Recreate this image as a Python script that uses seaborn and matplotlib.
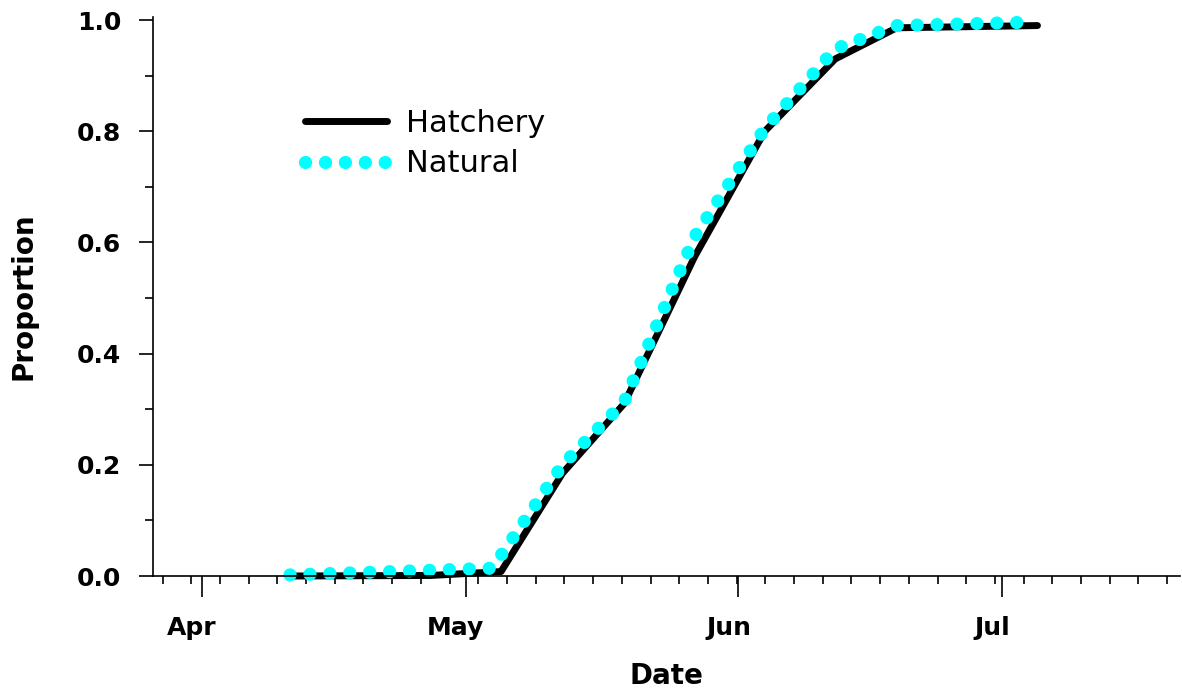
import numpy as np
import pandas as pd
import seaborn as sns
import matplotlib
matplotlib.use("Agg")
import matplotlib.pyplot as plt
import matplotlib.dates as mdates
import matplotlib.ticker as mticker
import matplotlib.transforms as mtransforms

# values
year = 2007
hatchery_dates = ["04-11", "04-27", "05-05", "05-12", "05-19", "05-27", "06-04", "06-12", "06-19", "07-05"]
hatchery_prop = [0.0, 0.001, 0.008, 0.185, 0.31, 0.574, 0.80, 0.93, 0.986, 0.99]
natural_dates = ["04-11", "05-04", "05-12", "05-19", "05-27", "06-04", "06-12", "06-19", "07-04"]
natural_prop = [0.002, 0.014, 0.20, 0.313, 0.61, 0.805, 0.948, 0.99, 0.996]
month_ticks = ["04-01", "05-01", "06-01", "07-01"]
month_labels = ["Apr", "May", "Jun", "Jul"]
y_ticks = [0.0, 0.2, 0.4, 0.6, 0.8, 1.0]
y_labels = ["0.0", "0.2", "0.4", "0.6", "0.8", "1.0"]

def to_dates(days):
    return pd.to_datetime([f"{year}-{d}" for d in days])

df_h = pd.DataFrame({"Date": to_dates(hatchery_dates), "Proportion": hatchery_prop})
df_n = pd.DataFrame({"Date": to_dates(natural_dates), "Proportion": natural_prop})

sns.set_style("ticks")
plt.rcParams["font.family"] = ["DejaVu Sans"]
for k in ["text.color", "axes.labelcolor", "xtick.color", "ytick.color", "axes.edgecolor"]:
    plt.rcParams[k] = "black"

fig = plt.figure(figsize=(11.82, 6.92), dpi=100)
ax = fig.add_axes([0.1294, 0.1676, 0.8689, 0.8075])

sns.lineplot(data=df_h, x="Date", y="Proportion", ax=ax, color="black", lw=5,
             solid_capstyle="round", label="Hatchery", clip_on=False)
sns.lineplot(data=df_n, x="Date", y="Proportion", ax=ax, color="#00FFFF", lw=9.5,
             linestyle=(0, (0.01, 1.5)), dash_capstyle="round", label="Natural", clip_on=False)

apr1 = mdates.date2num(pd.Timestamp(f"{year}-04-01"))
ax.set_xlim(mdates.date2num(pd.Timestamp(f"{year}-03-26 10:00")),
            mdates.date2num(pd.Timestamp(f"{year}-07-21 05:00")))
ax.set_xticks(mdates.date2num(to_dates(month_ticks)), month_labels,
              fontsize=18, fontweight="bold")
ax.xaxis.set_minor_locator(mticker.FixedLocator(apr1 + np.arange(-4.49, 111, 3.264)))
ax.set_ylim(0, 1.005)
ax.set_yticks(y_ticks, y_labels, fontsize=18, fontweight="bold")
ax.yaxis.set_minor_locator(mticker.MultipleLocator(0.1))

ax.tick_params(axis="x", which="major", direction="out", length=15, width=1.2, pad=13.5)
ax.tick_params(axis="x", which="minor", direction="out", length=6, width=1.2)
ax.tick_params(axis="y", which="major", direction="out", length=10, width=1.2, pad=13)
ax.tick_params(axis="y", which="minor", direction="out", length=6, width=1.2)

# month labels sit a little left of their ticks in the original
shift = mtransforms.ScaledTranslation(-10 / 100, 0, fig.dpi_scale_trans)
for lab in ax.get_xticklabels():
    lab.set_transform(lab.get_transform() + shift)

sns.despine(ax=ax)
for s in ["left", "bottom"]:
    ax.spines[s].set_linewidth(1.2)

ax.set_xlabel("Date", fontsize=20, fontweight="bold")
ax.xaxis.set_label_coords(0.5, -0.153)
ax.set_ylabel("Proportion", fontsize=20, fontweight="bold")
ax.yaxis.set_label_coords(-0.112, 0.5)

ax.legend(loc="upper left", bbox_to_anchor=(0.258, 0.843), bbox_transform=fig.transFigure,
          frameon=False, fontsize=22, handlelength=2.7, handletextpad=0.6,
          labelspacing=0.38, borderpad=0, borderaxespad=0)

fig.savefig("out.png", dpi=100)
